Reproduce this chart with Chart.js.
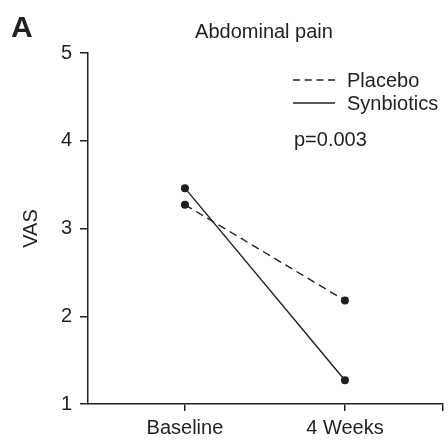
<!DOCTYPE html>
<html>
<head>
<meta charset="utf-8">
<script src="https://cdn.jsdelivr.net/npm/chart.js@4/dist/chart.umd.min.js"></script>
<style>
    html, body { margin: 0; padding: 0; background: #fff; }
    #wrap { width: 448px; height: 446px; }
</style>
</head>
<body>
<div id="wrap"><canvas id="vasChart" width="448" height="446"></canvas></div>
<script>
const timepoints = ["Baseline", "4 Weeks"];
const placeboValues = [3.27, 2.18];
const synbioticsValues = [3.46, 1.27];
const yTicks = [1, 2, 3, 4, 5];
const pValueText = "p=0.003";

const ink = "#231f20";
const fontFamily = "'Liberation Sans', Arial, Helvetica, sans-serif";

function toPoints(values) {
    return values.map(function (v, i) {
        return { x: i, y: v };
    });
}

const textPlugin = {
    id: "figureText",
    afterDraw: function (chart) {
        const ctx = chart.ctx;
        ctx.save();
        ctx.fillStyle = ink;
        ctx.textBaseline = "alphabetic";

        ctx.font = "bold 30px " + fontFamily;
        ctx.textAlign = "left";
        ctx.fillText("A", 11, 37);

        ctx.font = "20px " + fontFamily;
        ctx.textAlign = "center";
        ctx.fillText("Abdominal pain", 264, 38);

        // legend (dash pattern fitted to 4 dashes)
        const sets = chart.data.datasets;
        const rows = [80, 103];
        ctx.textAlign = "left";
        sets.forEach(function (ds, i) {
            ctx.strokeStyle = ink;
            ctx.lineWidth = 1.4;
            ctx.setLineDash(ds.borderDash ? [7, 4.7] : []);
            ctx.beginPath();
            ctx.moveTo(293, rows[i]);
            ctx.lineTo(335, rows[i]);
            ctx.stroke();
            ctx.setLineDash([]);
            ctx.fillText(ds.label, 347, rows[i] + 7);
        });

        ctx.fillText(pValueText, 294, 146);
        ctx.restore();
    }
};

new Chart(document.getElementById("vasChart"), {
    type: "line",
    data: {
        datasets: [
            {
                label: "Placebo",
                data: toPoints(placeboValues),
                borderColor: ink,
                backgroundColor: ink,
                borderWidth: 1.4,
                borderDash: [8, 5],
                pointRadius: 4,
                pointBorderWidth: 0
            },
            {
                label: "Synbiotics",
                data: toPoints(synbioticsValues),
                borderColor: ink,
                backgroundColor: ink,
                borderWidth: 1.4,
                pointRadius: 4,
                pointBorderWidth: 0
            }
        ]
    },
    options: {
        responsive: false,
        animation: false,
        clip: false,
        layout: { padding: { top: 53, right: 5, left: 0, bottom: 0 } },
        plugins: {
            legend: { display: false },
            tooltip: { enabled: false }
        },
        scales: {
            x: {
                type: "linear",
                min: -0.606,
                max: 1.613,
                afterBuildTicks: function (scale) {
                    scale.ticks = [{ value: 0 }, { value: 1 }, { value: scale.max }];
                },
                afterFit: function (scale) {
                    scale.height = 42;
                },
                border: { display: true, color: ink, width: 1.5 },
                grid: {
                    drawOnChartArea: false,
                    drawTicks: true,
                    tickLength: 7,
                    color: ink,
                    lineWidth: 1.5
                },
                ticks: {
                    autoSkip: false,
                    minRotation: 0,
                    maxRotation: 0,
                    padding: 5,
                    color: ink,
                    font: { family: fontFamily, size: 20 },
                    callback: function (value) {
                        return timepoints[value] !== undefined ? timepoints[value] : "";
                    }
                }
            },
            y: {
                min: 1,
                max: 5,
                afterBuildTicks: function (scale) {
                    scale.ticks = yTicks.map(function (v) { return { value: v }; });
                },
                afterFit: function (scale) {
                    scale.width = 88;
                },
                border: { display: true, color: ink, width: 1.5 },
                grid: {
                    drawOnChartArea: false,
                    drawTicks: true,
                    tickLength: 8,
                    color: ink,
                    lineWidth: 1.5
                },
                ticks: {
                    minRotation: 0,
                    maxRotation: 0,
                    padding: 8,
                    color: ink,
                    font: { family: fontFamily, size: 20 }
                },
                title: {
                    display: true,
                    text: "VAS",
                    color: ink,
                    font: { family: fontFamily, size: 20 },
                    padding: { top: 19, bottom: 0 }
                }
            }
        }
    },
    plugins: [textPlugin]
});
</script>
</body>
</html>
